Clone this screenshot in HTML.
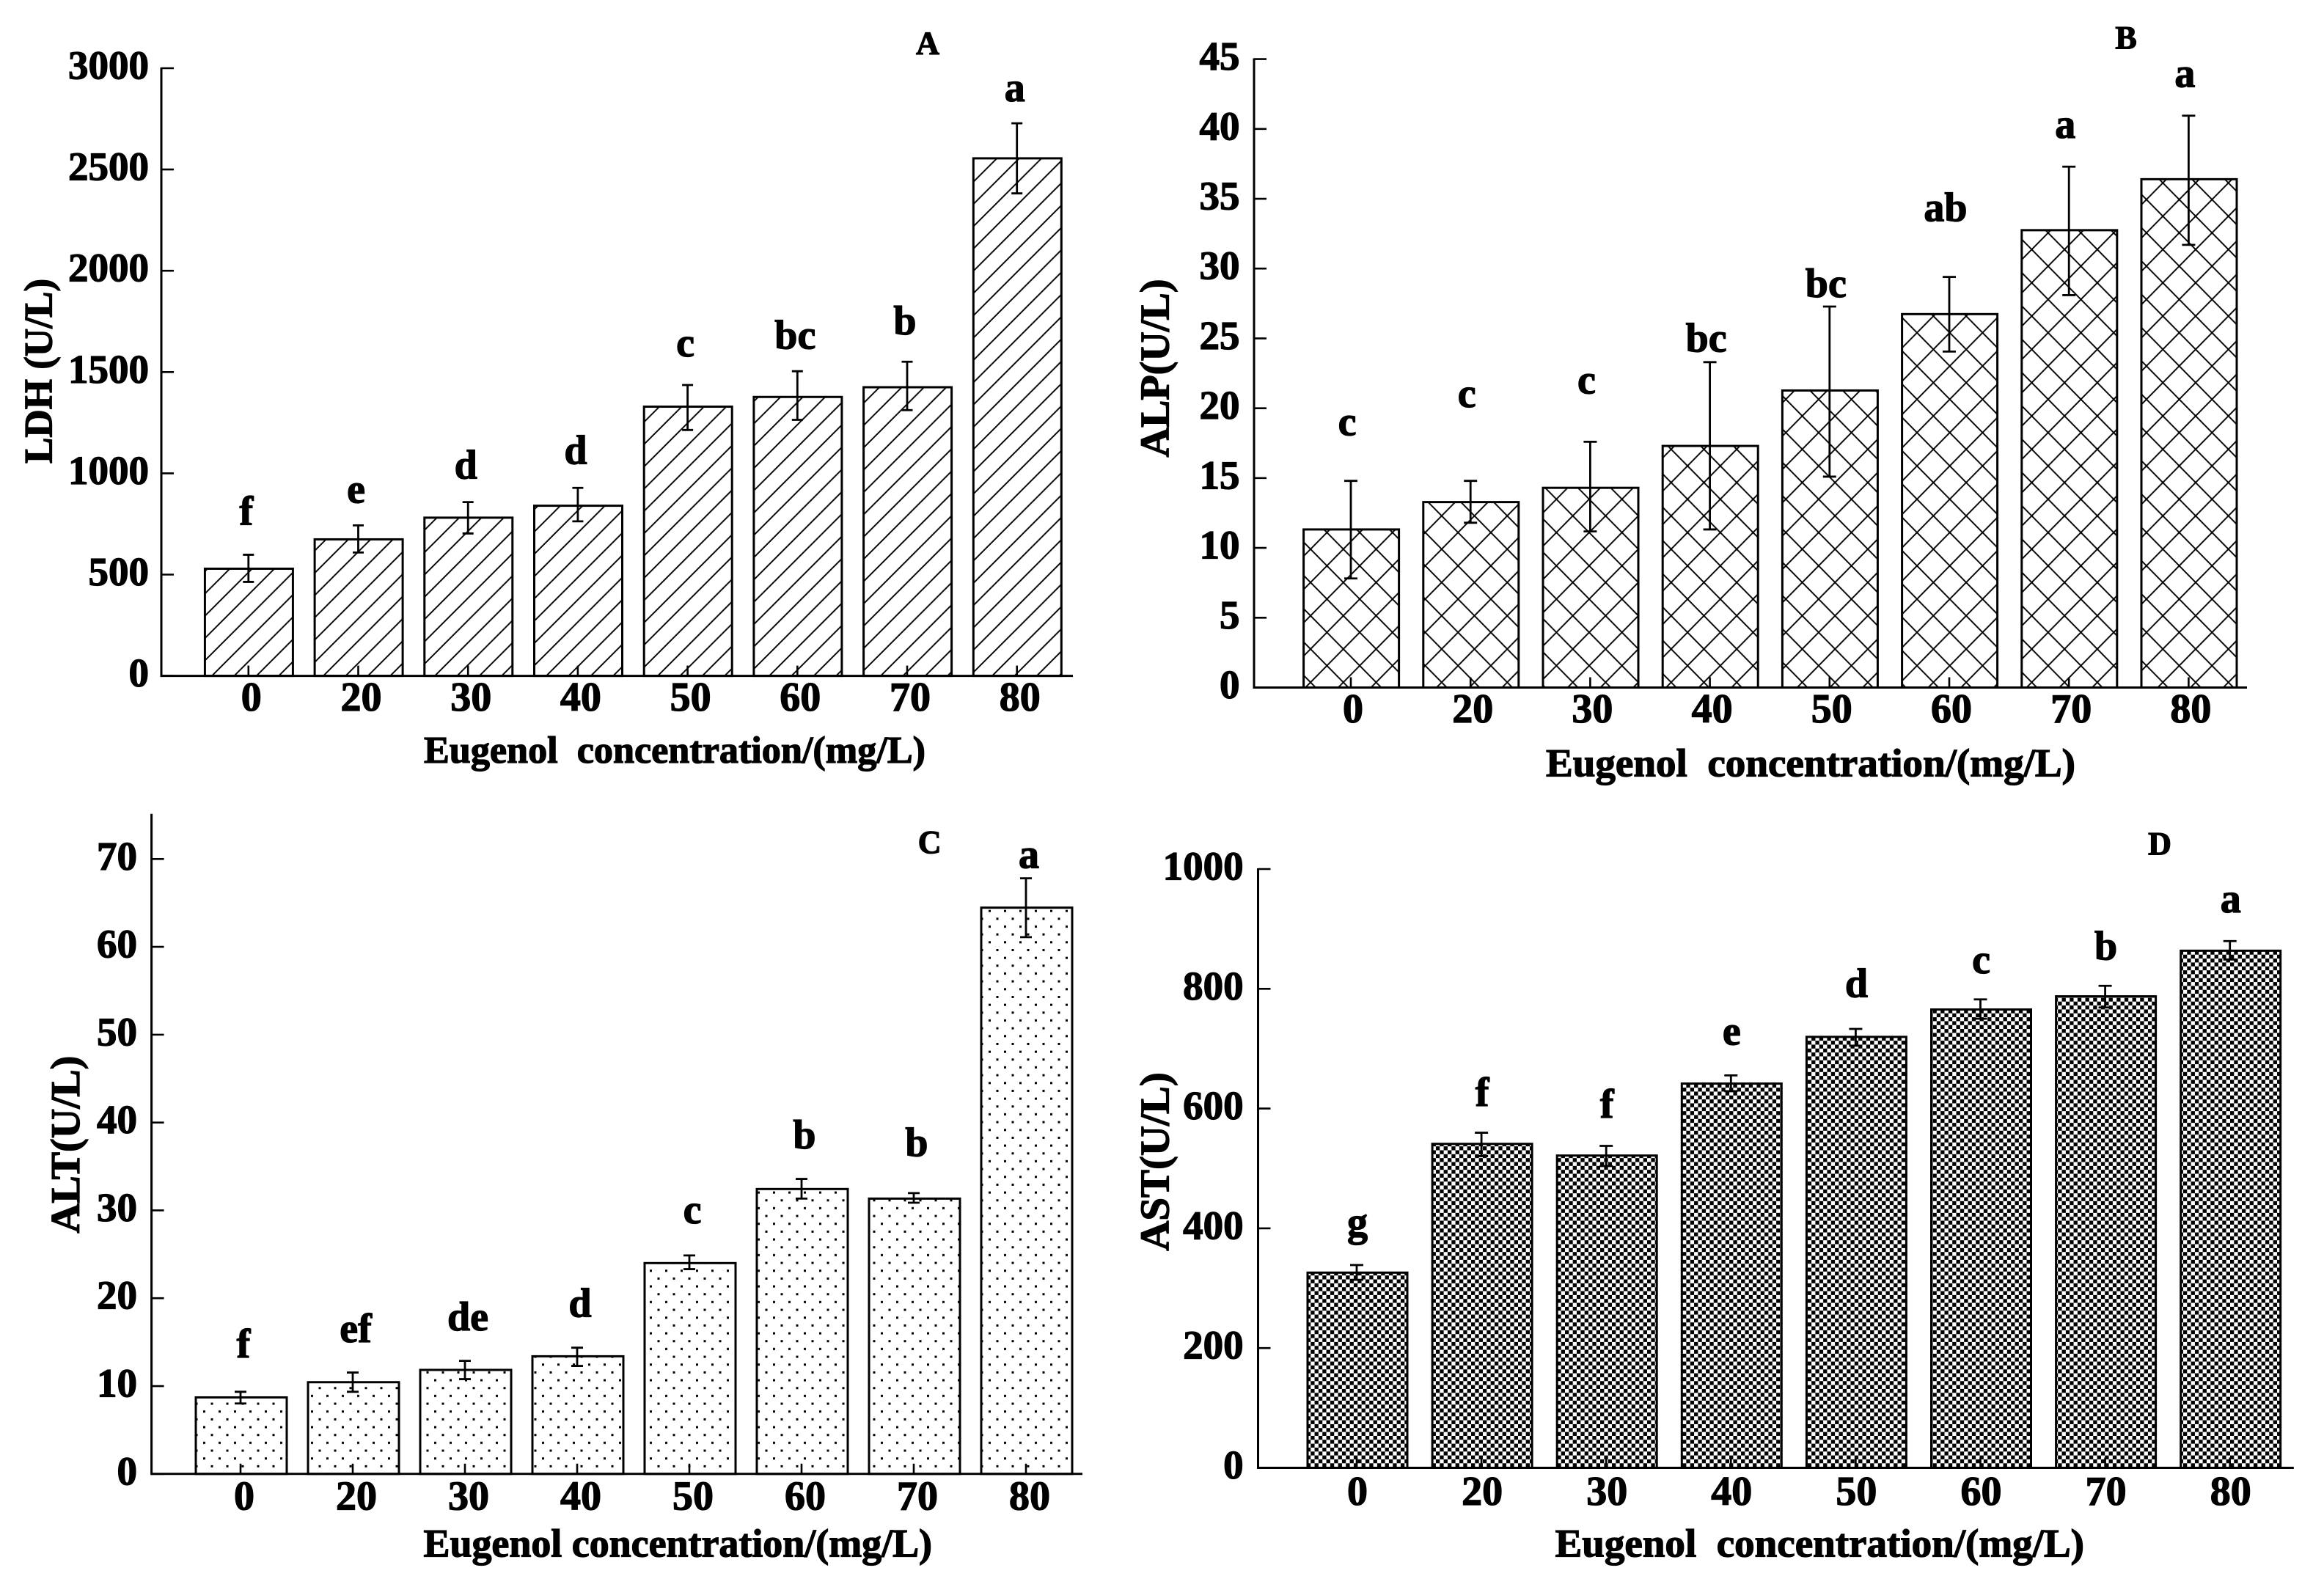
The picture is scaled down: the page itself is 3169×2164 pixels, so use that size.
<!DOCTYPE html>
<html lang="en">
<head>
<meta charset="utf-8">
<title>Serum enzyme activity versus eugenol concentration</title>
<style>
html,body{margin:0;padding:0;background:#fff;}
svg{display:block;}
text{font-family:"Liberation Serif",serif;font-weight:bold;fill:#000;stroke:#000;stroke-width:1.3px;white-space:pre;}
</style>
</head>
<body>
<svg id="figure" xmlns="http://www.w3.org/2000/svg" width="3169" height="2164" viewBox="0 0 3169 2164">
  <defs>
    <pattern id="hatch-diagonal" patternUnits="userSpaceOnUse" x="24.9" y="0" width="30.4" height="30.4">
      <path d="M-3 33.4L33.4 -3M-3 3L3 -3M27.4 33.4L33.4 27.4" stroke="#000" stroke-width="1.9" fill="none"/>
    </pattern>
    <pattern id="hatch-cross" patternUnits="userSpaceOnUse" x="21.4" y="-0.3" width="44.7" height="45.4">
      <path d="M0 0L44.7 45.4M0 45.4L44.7 0" stroke="#000" stroke-width="1.9" fill="none"/>
    </pattern>
    <pattern id="hatch-dots" patternUnits="userSpaceOnUse" x="14.5" y="14.2" width="21" height="21.33">
      <rect x="0" y="0" width="3" height="3" fill="#000"/>
      <rect x="10.5" y="10.67" width="3" height="3" fill="#000"/>
    </pattern>
    <pattern id="hatch-checker" patternUnits="userSpaceOnUse" x="0" y="0" width="10.67" height="10.67">
      <rect x="0" y="0" width="5.33" height="5.33" fill="#000"/>
      <rect x="5.33" y="5.33" width="5.33" height="5.33" fill="#000"/>
    </pattern>
  </defs>

  <g id="panel-a">
    <text transform="translate(70.4 506) rotate(-90)" text-anchor="middle" font-size="54" textLength="252" lengthAdjust="spacingAndGlyphs">LDH (U/L)</text>
    <text x="578" y="1040" font-size="52" textLength="684" lengthAdjust="spacingAndGlyphs">Eugenol  concentration/(mg/L)</text>
    <text x="1265" y="73.7" text-anchor="middle" font-size="44">A</text>
  </g>
  <g id="panel-b">
    <text transform="translate(1593.6 502) rotate(-90)" text-anchor="middle" font-size="56" textLength="243" lengthAdjust="spacingAndGlyphs">ALP(U/L)</text>
    <text x="2108" y="1058.6" font-size="54" textLength="722" lengthAdjust="spacingAndGlyphs">Eugenol  concentration/(mg/L)</text>
    <text x="2899" y="66" text-anchor="middle" font-size="44">B</text>
  </g>
  <g id="panel-c">
    <text transform="translate(108 1560.6) rotate(-90)" text-anchor="middle" font-size="56" textLength="242" lengthAdjust="spacingAndGlyphs">ALT(U/L)</text>
    <text x="577.5" y="2122.5" font-size="54" textLength="693.5" lengthAdjust="spacingAndGlyphs">Eugenol concentration/(mg/L)</text>
    <text x="1267.7" y="1163" text-anchor="middle" font-size="44">C</text>
  </g>
  <g id="panel-d">
    <text transform="translate(1593.6 1584) rotate(-90)" text-anchor="middle" font-size="56" textLength="243.6" lengthAdjust="spacingAndGlyphs">AST(U/L)</text>
    <text x="2120.6" y="2122.5" font-size="54" textLength="721.4" lengthAdjust="spacingAndGlyphs">Eugenol  concentration/(mg/L)</text>
    <text x="2945" y="1165" text-anchor="middle" font-size="44">D</text>
  </g>
</svg>

<script>
var categories = ['0', '20', '30', '40', '50', '60', '70', '80'];

var ldhTicks = [0, 500, 1000, 1500, 2000, 2500, 3000];
var ldhValues = [529, 674, 781, 840, 1329, 1377, 1425, 2555];
var ldhErrHigh = [598, 743, 858, 928, 1436, 1504, 1551, 2728];
var ldhErrLow = [464, 609, 703, 763, 1214, 1264, 1312, 2382];
var ldhLetters = ['f', 'e', 'd', 'd', 'c', 'bc', 'b', 'a'];
var ldhLetterLift = [148, 112, 116, 119, 141, 112, 134, 109];

var alpTicks = [0, 5, 10, 15, 20, 25, 30, 35, 40, 45];
var alpValues = [11.32, 13.28, 14.3, 17.3, 21.27, 26.74, 32.75, 36.4];
var alpErrHigh = [14.8, 14.8, 17.6, 23.3, 27.28, 29.4, 37.3, 40.95];
var alpErrLow = [7.81, 11.8, 11.18, 11.32, 15.1, 24.06, 28.1, 31.7];
var alpLetters = ['c', 'c', 'c', 'bc', 'bc', 'ab', 'a', 'a'];
var alpLetterLift = [3.26, 5.3, 3.47, 0.74, 0.68, 4, 2.05, 2.05];

var altTicks = [0, 10, 20, 30, 40, 50, 60, 70];
var altValues = [8.71, 10.44, 11.84, 13.39, 24.0, 32.43, 31.34, 64.46];
var altErrHigh = [9.35, 11.54, 12.87, 14.37, 24.87, 33.58, 31.97, 67.8];
var altErrLow = [8.02, 9.35, 10.79, 12.29, 23.31, 31.34, 30.87, 61.1];
var altLetters = ['f', 'ef', 'de', 'd', 'c', 'b', 'b', 'a'];
var altLetterLift = [3.9, 3.46, 3.47, 3.5, 3.67, 3.46, 4.2, 1.17];

var astTicks = [0, 200, 400, 600, 800, 1000];
var astValues = [326, 541, 521.5, 641.7, 719.7, 765.4, 787.4, 863.6];
var astErrHigh = [338.6, 559.6, 537.7, 655.4, 733, 782.3, 805, 879.7];
var astErrLow = [314, 520.6, 504, 629, 705, 750, 768.8, 849];
var astLetters = ['g', 'f', 'f', 'e', 'd', 'c', 'b', 'a'];
var astLetterLift = [49, 45, 47, 51, 53, 44, 44, 48];

var SVG_NS = 'http://www.w3.org/2000/svg';

function make(parent, tag, attrs, content) {
  var el = document.createElementNS(SVG_NS, tag);
  for (var key in attrs) { el.setAttribute(key, attrs[key]); }
  if (content !== undefined) { el.textContent = content; }
  parent.appendChild(el);
  return el;
}

function drawPanel(cfg) {
  var root = document.getElementById(cfg.id);
  var prefix = cfg.prefix;
  var yScale = function (v) { return cfg.y0 - (v / cfg.vMax) * (cfg.y0 - cfg.yMaxPx); };
  var xScale = function (i) { return cfg.x0 + cfg.step * i; };

  cfg.values.forEach(function (v, i) {
    var cx = xScale(i);
    var top = yScale(v);
    var bar = make(root, 'rect', {
      x: cx + cfg.barShift - cfg.barWidth / 2, y: top, width: cfg.barWidth, height: cfg.y0 - top,
      fill: 'url(#' + cfg.pattern + ')', stroke: '#000', 'stroke-width': 3
    });
    
    
  });

  cfg.values.forEach(function (v, i) {
    var cx = xScale(i);
    var hi = yScale(cfg.errHigh[i]);
    var lo = yScale(cfg.errLow[i]);
    var err = make(root, 'path', {
      d: 'M' + (cx - cfg.cap) + ' ' + hi + 'H' + (cx + cfg.cap) +
         'M' + cx + ' ' + hi + 'V' + lo +
         'M' + (cx - cfg.cap) + ' ' + lo + 'H' + (cx + cfg.cap),
      stroke: '#000', 'stroke-width': 2.8, fill: 'none'
    });
    
    

    var letter = make(root, 'text', {
      x: cx + cfg.letterDx, y: yScale(cfg.errHigh[i] + cfg.lift[i]),
      'text-anchor': 'middle', 'font-size': 56
    }, cfg.letters[i]);
    
    

    var xTick = make(root, 'line', {
      x1: cx, x2: cx, y1: cfg.y0, y2: cfg.y0 - 14, stroke: '#000', 'stroke-width': 2.6
    });
    
    

    var xLabel = make(root, 'text', {
      x: cx + cfg.xLabelDx, y: cfg.y0 + cfg.xLabelDy,
      'text-anchor': 'middle', 'font-size': 56
    }, categories[i]);
    
    
  });

  cfg.ticks.forEach(function (t) {
    var y = yScale(t);
    var yTick = make(root, 'line', {
      x1: cfg.axisX, x2: cfg.axisX + 17, y1: y, y2: y, stroke: '#000', 'stroke-width': 2.6
    });
    
    

    var yLabel = make(root, 'text', {
      x: cfg.yLabelRight, y: y + 14.5, 'text-anchor': 'end', 'font-size': 55
    }, String(t));
    
    
  });

  var yAxis = make(root, 'line', {
    x1: cfg.axisX, x2: cfg.axisX, y1: cfg.axisTop, y2: cfg.y0 + 1.5, stroke: '#000', 'stroke-width': 3
  });
  
  

  var xAxis = make(root, 'line', {
    x1: cfg.axisX, x2: cfg.axisRight, y1: cfg.y0, y2: cfg.y0, stroke: '#000', 'stroke-width': 3
  });
  
  
}

drawPanel({
  id: 'panel-a', prefix: 'ldh', pattern: 'hatch-diagonal',
  values: ldhValues, errHigh: ldhErrHigh, errLow: ldhErrLow, letters: ldhLetters, lift: ldhLetterLift, ticks: ldhTicks,
  vMax: 3000, y0: 921.6, yMaxPx: 93, axisX: 220, axisTop: 92, axisRight: 1463,
  x0: 338.8, step: 149.7, barWidth: 120, barShift: 0.6, cap: 7.5,
  letterDx: -3, xLabelDx: 4, xLabelDy: 47.5, yLabelRight: 203
});
drawPanel({
  id: 'panel-b', prefix: 'alp', pattern: 'hatch-cross',
  values: alpValues, errHigh: alpErrHigh, errLow: alpErrLow, letters: alpLetters, lift: alpLetterLift, ticks: alpTicks,
  vMax: 45, y0: 937.5, yMaxPx: 80.6, axisX: 1710, axisTop: 79.5, axisRight: 3064,
  x0: 1842, step: 163.2, barWidth: 130, barShift: 0.6, cap: 9,
  letterDx: -5, xLabelDx: 3, xLabelDy: 47.5, yLabelRight: 1690.5
});
drawPanel({
  id: 'panel-c', prefix: 'alt', pattern: 'hatch-dots',
  values: altValues, errHigh: altErrHigh, errLow: altErrLow, letters: altLetters, lift: altLetterLift, ticks: altTicks,
  vMax: 70, y0: 2009.8, yMaxPx: 1171.3, axisX: 206.6, axisTop: 1109.7, axisRight: 1476,
  x0: 328, step: 153, barWidth: 124, barShift: 1, cap: 8,
  letterDx: 4, xLabelDx: 5, xLabelDy: 48.5, yLabelRight: 187
});
drawPanel({
  id: 'panel-d', prefix: 'ast', pattern: 'hatch-checker',
  values: astValues, errHigh: astErrHigh, errLow: astErrLow, letters: astLetters, lift: astLetterLift, ticks: astTicks,
  vMax: 1000, y0: 2001.5, yMaxPx: 1185, axisX: 1715.5, axisTop: 1184, axisRight: 3127.8,
  x0: 1850, step: 170.1, barWidth: 136, barShift: 1, cap: 9,
  letterDx: 1, xLabelDx: 1, xLabelDy: 50.5, yLabelRight: 1695.6
});
</script>
</body>
</html>
